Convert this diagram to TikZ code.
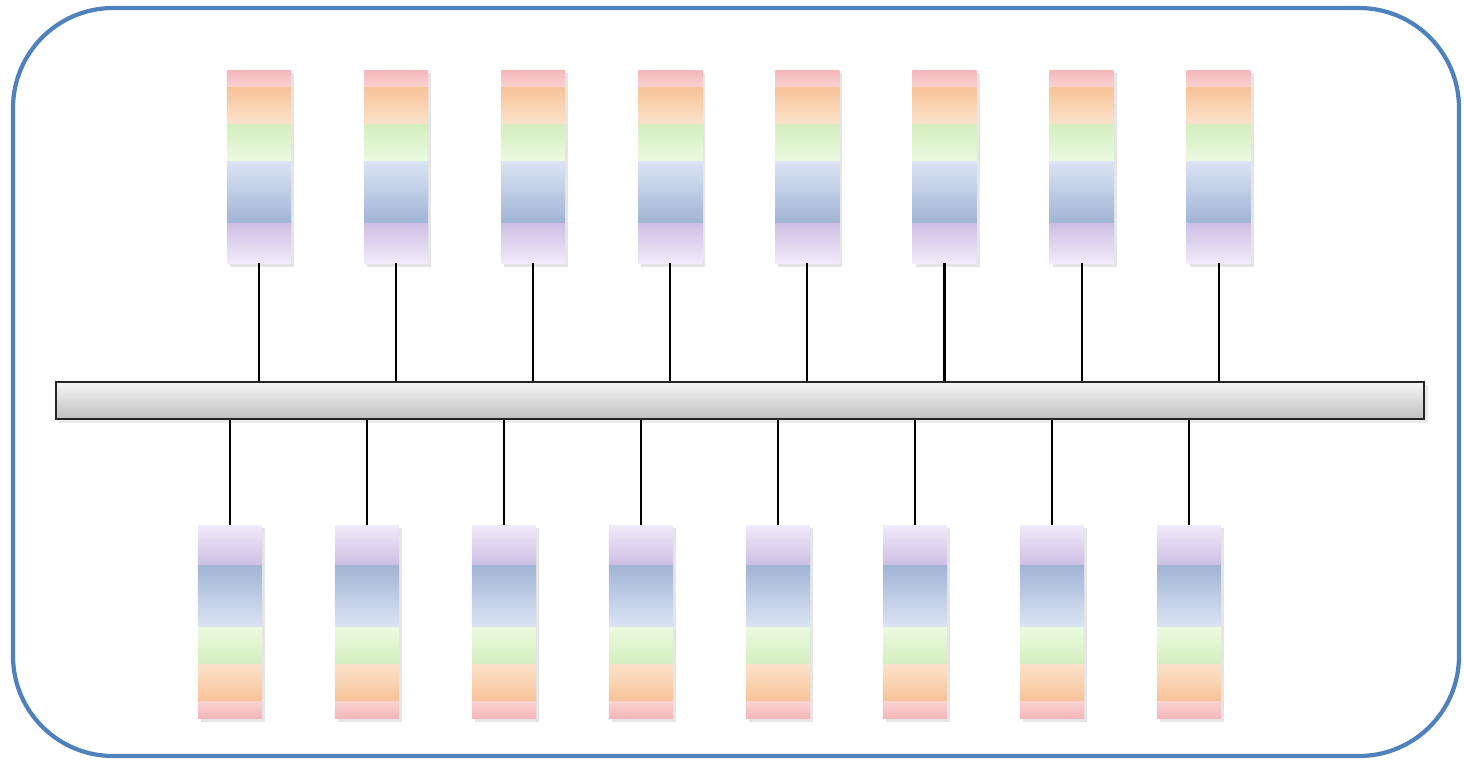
\documentclass[tikz,border=0pt]{standalone}
\usepackage{tikz}
\usepackage{xcolor}
\usetikzlibrary{positioning}

\definecolor{framecol}{RGB}{79,129,189}
\definecolor{pinkA}{RGB}{244,182,186}
\definecolor{pinkB}{RGB}{250,210,208}
\definecolor{orangeA}{RGB}{247,194,152}
\definecolor{orangeB}{RGB}{252,226,202}
\definecolor{greenA}{RGB}{212,238,190}
\definecolor{greenB}{RGB}{236,250,224}
\definecolor{blueA}{RGB}{220,228,245}
\definecolor{blueB}{RGB}{160,180,212}
\definecolor{purpleA}{RGB}{206,190,228}
\definecolor{purpleB}{RGB}{240,235,250}

\tikzset{
  layer/.style={minimum width=6.4mm, inner sep=0pt, outer sep=0pt},
  pinklayer/.style={layer, minimum height=1.7mm, top color=pinkA, bottom color=pinkB},
  orangelayer/.style={layer, minimum height=3.7mm, top color=orangeA, bottom color=orangeB},
  greenlayer/.style={layer, minimum height=3.7mm, top color=greenA, bottom color=greenB},
  bluelayer/.style={layer, minimum height=6.2mm, top color=blueA, bottom color=blueB},
  purplelayer/.style={layer, minimum height=4.0mm, top color=purpleA, bottom color=purpleB},
  flip/.style={shading angle=180},
  busbar/.style={draw=black!85, line width=0.6pt, minimum width=13.68cm, minimum height=3.7mm,
    inner sep=0pt, top color=black!4, bottom color=black!25},
  wire/.style={line width=0.6pt},
}

\begin{document}
\begin{tikzpicture}[x=0.01cm,y=-0.01cm]
  \useasboundingbox (0,0) rectangle (1464,763);

  % Outer frame
  \draw[framecol, line width=1.2pt, rounded corners=1cm] (13,8) rectangle (1459,756);

  % The bus
  \fill[black, opacity=0.08] (58,385) rectangle (1428,423);
  \node[busbar] (bus) at (740,400.5) {};

  % Upper stacks, hanging on the bus from above
  \foreach \i in {1,...,8} {
    \pgfmathsetmacro{\tx}{259+137.1*(\i-1)}
    \fill[black, opacity=0.10] (\tx-29,73) rectangle (\tx+35,267);
    \node[pinklayer, anchor=north] (top\i-1) at (\tx,70) {};
    \node[orangelayer, below=0pt of top\i-1] (top\i-2) {};
    \node[greenlayer, below=0pt of top\i-2] (top\i-3) {};
    \node[bluelayer, below=0pt of top\i-3] (top\i-4) {};
    \node[purplelayer, below=0pt of top\i-4] (top\i-5) {};
    \draw[wire] (top\i-5.south) -- (top\i-5.south |- bus.north);
  }

  % Lower stacks, upside down below the bus
  \foreach \i in {1,...,8} {
    \pgfmathsetmacro{\tx}{230+137*(\i-1)}
    \fill[black, opacity=0.10] (\tx-29,528) rectangle (\tx+35,722);
    \node[purplelayer, flip, anchor=north] (bot\i-1) at (\tx,525) {};
    \node[bluelayer, flip, below=0pt of bot\i-1] (bot\i-2) {};
    \node[greenlayer, flip, below=0pt of bot\i-2] (bot\i-3) {};
    \node[orangelayer, flip, below=0pt of bot\i-3] (bot\i-4) {};
    \node[pinklayer, flip, below=0pt of bot\i-4] (bot\i-5) {};
    \draw[wire] (bot\i-1.north) -- (bot\i-1.north |- bus.south);
  }
\end{tikzpicture}
\end{document}
